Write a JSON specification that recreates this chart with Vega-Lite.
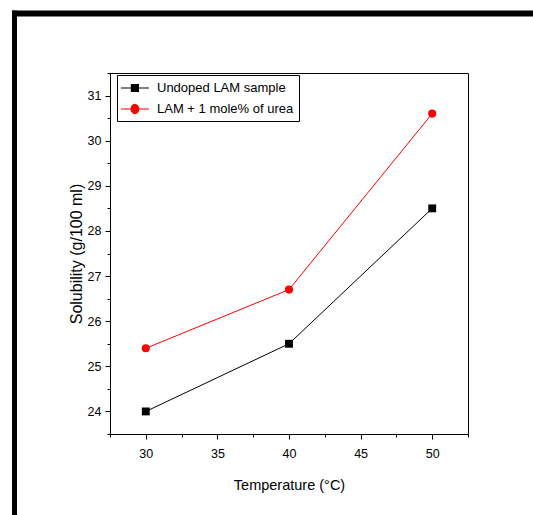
{
  "$schema": "https://vega.github.io/schema/vega-lite/v6.json",
  "width": 358,
  "height": 361,
  "autosize": {"type": "none"},
  "padding": {"left": 110, "top": 73, "right": 65, "bottom": 81},
  "background": "white",
  "data": {
    "values": [
      {"series": "Undoped LAM sample", "temp": 30, "sol": 24.0},
      {"series": "Undoped LAM sample", "temp": 40, "sol": 25.5},
      {"series": "Undoped LAM sample", "temp": 50, "sol": 28.5},
      {"series": "LAM + 1 mole% of urea", "temp": 30, "sol": 25.4},
      {"series": "LAM + 1 mole% of urea", "temp": 40, "sol": 26.7},
      {"series": "LAM + 1 mole% of urea", "temp": 50, "sol": 30.6}
    ]
  },
  "config": {
    "view": {"stroke": "black", "strokeWidth": 1},
    "font": "Liberation Sans",
    "axis": {
      "grid": false,
      "domainColor": "black",
      "tickColor": "black",
      "labelColor": "black",
      "titleColor": "black",
      "labelFont": "Liberation Sans",
      "titleFont": "Liberation Sans",
      "labelFontSize": 12.5,
      "titleFontSize": 14,
      "titleFontWeight": "normal"
    }
  },
  "layer": [
    {
      "transform": [{"filter": "datum.series === 'Undoped LAM sample'"}],
      "mark": {"type": "line", "strokeWidth": 1, "color": "#000000"},
      "encoding": {
        "x": {
          "field": "temp", "type": "quantitative",
          "scale": {"domain": [27.5, 52.5], "nice": false, "zero": false},
          "axis": {"orient": "bottom", "values": [30, 35, 40, 45, 50], "title": "Temperature (°C)", "tickSize": 5, "labelPadding": 8, "titlePadding": 19, "titleFontSize": 14.5}
        },
        "y": {
          "field": "sol", "type": "quantitative",
          "scale": {"domain": [23.5, 31.5], "nice": false, "zero": false},
          "axis": {"orient": "left", "values": [24, 25, 26, 27, 28, 29, 30, 31], "title": "Solubility (g/100 ml)", "tickSize": 5, "labelPadding": 4, "titlePadding": 3, "titleFontSize": 16}
        }
      }
    },
    {
      "transform": [{"filter": "datum.series === 'LAM + 1 mole% of urea'"}],
      "mark": {"type": "line", "strokeWidth": 1, "color": "#ff0000"},
      "encoding": {
        "x": {"field": "temp", "type": "quantitative", "scale": {"domain": [27.5, 52.5], "nice": false, "zero": false}, "axis": null},
        "y": {"field": "sol", "type": "quantitative", "scale": {"domain": [23.5, 31.5], "nice": false, "zero": false}, "axis": null}
      }
    },
    {
      "transform": [{"filter": "datum.series === 'Undoped LAM sample'"}],
      "mark": {"type": "square", "filled": true, "opacity": 1, "size": 62, "color": "#000000"},
      "encoding": {
        "x": {
          "field": "temp", "type": "quantitative",
          "scale": {"domain": [27.5, 52.5], "nice": false, "zero": false},
          "axis": {"orient": "bottom", "values": [27.5, 32.5, 37.5, 42.5, 47.5, 52.5], "labels": false, "title": null, "domain": false, "tickSize": 3}
        },
        "y": {
          "field": "sol", "type": "quantitative",
          "scale": {"domain": [23.5, 31.5], "nice": false, "zero": false},
          "axis": {"orient": "left", "values": [23.5, 24.5, 25.5, 26.5, 27.5, 28.5, 29.5, 30.5, 31.5], "labels": false, "title": null, "domain": false, "tickSize": 3}
        }
      }
    },
    {
      "transform": [{"filter": "datum.series === 'LAM + 1 mole% of urea'"}],
      "mark": {"type": "circle", "opacity": 1, "size": 66, "color": "#ff0000"},
      "encoding": {
        "x": {"field": "temp", "type": "quantitative", "scale": {"domain": [27.5, 52.5], "nice": false, "zero": false}, "axis": null},
        "y": {"field": "sol", "type": "quantitative", "scale": {"domain": [23.5, 31.5], "nice": false, "zero": false}, "axis": null}
      }
    },
    {
      "transform": [{"filter": "datum.temp > 1000"}],
      "mark": {"type": "point", "filled": true, "strokeWidth": 1.2},
      "encoding": {
        "x": {"field": "temp", "type": "quantitative", "scale": {"domain": [27.5, 52.5], "nice": false, "zero": false}, "axis": null},
        "y": {"field": "sol", "type": "quantitative", "scale": {"domain": [23.5, 31.5], "nice": false, "zero": false}, "axis": null},
        "fill": {
          "field": "series", "type": "nominal",
          "scale": {"domain": ["Undoped LAM sample", "LAM + 1 mole% of urea"], "range": ["#000000", "#ff0000"]},
          "legend": {
            "orient": "none", "legendX": 7, "legendY": 2, "title": null,
            "strokeColor": "black", "fillColor": "white", "padding": 5,
            "labelFont": "Liberation Sans", "labelFontSize": 13, "labelColor": "black",
            "symbolSize": 196, "symbolOpacity": 1, "symbolStrokeWidth": 1.2, "rowPadding": 6, "labelOffset": 19, "labelLimit": 400
          }
        },
        "stroke": {
          "field": "series", "type": "nominal",
          "scale": {"domain": ["Undoped LAM sample", "LAM + 1 mole% of urea"], "range": ["#000000", "#ff0000"]},
          "legend": {
            "orient": "none", "legendX": 7, "legendY": 2, "title": null,
            "strokeColor": "black", "fillColor": "white", "padding": 5,
            "labelFont": "Liberation Sans", "labelFontSize": 13, "labelColor": "black",
            "symbolSize": 196, "symbolOpacity": 1, "symbolStrokeWidth": 1.2, "rowPadding": 6, "labelOffset": 19, "labelLimit": 400
          }
        },
        "shape": {
          "field": "series", "type": "nominal",
          "scale": {"domain": ["Undoped LAM sample", "LAM + 1 mole% of urea"], "range": ["M-1.3,0H2.7M0.2,-0.5H1.2V0.5H0.2Z", "M-1.3,0H2.7M1.25,0A0.55,0.65 0 1,1 0.15,0A0.55,0.65 0 1,1 1.25,0Z"]},
          "legend": {
            "orient": "none", "legendX": 7, "legendY": 2, "title": null,
            "strokeColor": "black", "fillColor": "white", "padding": 5,
            "labelFont": "Liberation Sans", "labelFontSize": 13, "labelColor": "black",
            "symbolSize": 196, "symbolOpacity": 1, "symbolStrokeWidth": 1.2, "rowPadding": 6, "labelOffset": 19, "labelLimit": 400
          }
        }
      }
    },
    {
      "mark": {"type": "point", "opacity": 0},
      "encoding": {
        "x": {
          "field": "temp", "type": "quantitative",
          "scale": {"domain": [27.5, 52.5], "nice": false, "zero": false, "range": [-98, 423]},
          "axis": {"orient": "top", "offset": 60, "domainWidth": 6, "domainColor": "black", "ticks": false, "labels": false, "title": null}
        },
        "y": {
          "field": "sol", "type": "quantitative",
          "scale": {"domain": [23.5, 31.5], "nice": false, "zero": false, "range": [442, -63]},
          "axis": {"orient": "left", "offset": 96, "domainWidth": 5, "domainColor": "black", "ticks": false, "labels": false, "title": null}
        }
      }
    }
  ],
  "resolve": {"scale": {"x": "independent", "y": "independent"}, "axis": {"x": "independent", "y": "independent"}}
}
